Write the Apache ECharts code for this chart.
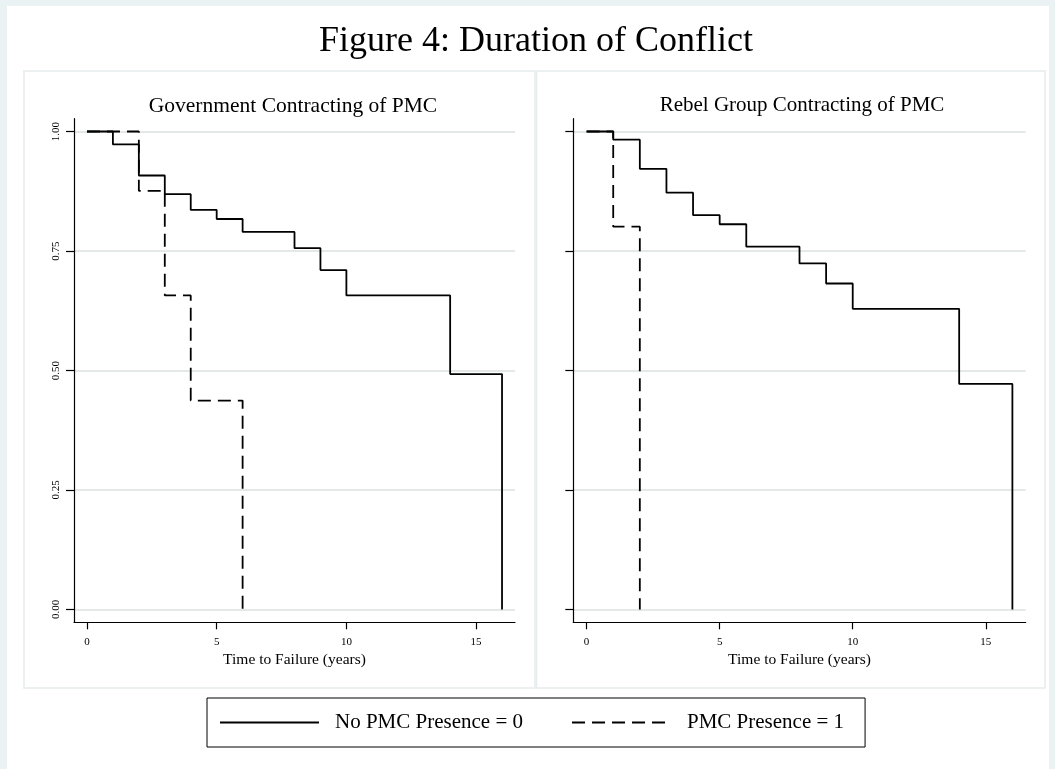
<!DOCTYPE html>
<html lang="en" style="height: 100%">
<head>
  <meta charset="utf-8">
</head>
<body style="height: 100%; margin: 0; background: #eaf2f3">
  <div id="container" style="width: 1055px; height: 769px"></div>

  <script type="text/javascript" src="https://cdn.jsdelivr.net/npm/echarts@6/dist/echarts.min.js"></script>

  <script type="text/javascript">
    // Kaplan-Meier survival estimates
    var govTimes0 = [0, 1, 2, 3, 4, 5, 6, 8, 9, 10, 14, 16];
    var govSurv0  = [1, 0.973, 0.908, 0.869, 0.836, 0.817, 0.790, 0.756, 0.710, 0.657, 0.4925, 0];
    var govTimes1 = [0, 2, 3, 4, 6];
    var govSurv1  = [1, 0.876, 0.657, 0.437, 0];

    var rebTimes0 = [0, 1, 2, 3, 4, 5, 6, 8, 9, 10, 14, 16];
    var rebSurv0  = [1, 0.983, 0.922, 0.872, 0.825, 0.806, 0.759, 0.724, 0.682, 0.629, 0.472, 0];
    var rebTimes1 = [0, 1, 2];
    var rebSurv1  = [1, 0.801, 0];

    var xTicks = [0, 5, 10, 15];
    var yTicks = [0, 0.25, 0.5, 0.75, 1];

    var name0 = 'No PMC Presence = 0';
    var name1 = 'PMC Presence = 1';

    var FONT = '"Liberation Serif", "Times New Roman", serif';
    var GRID = '#e4e8e8';

    function pairs(xs, ys) {
      return xs.map(function (x, i) { return [x, ys[i]]; });
    }

    function xAxisFor(idx) {
      return {
        type: 'value', gridIndex: idx, min: -0.5, max: 16.5,
        name: 'Time to Failure (years)', nameLocation: 'middle', nameGap: 29,
        nameTextStyle: { fontFamily: FONT, fontSize: 15.5, color: '#000' },
        axisLine: { show: true, onZero: false, lineStyle: { color: '#000', width: 1.2 } },
        axisTick: { show: true, length: 7, customValues: xTicks, lineStyle: { color: '#000', width: 1.2 } },
        axisLabel: { customValues: xTicks, margin: 14, fontFamily: FONT, fontSize: 11, color: '#000' },
        splitLine: { show: false }
      };
    }

    function yAxisFor(idx, labels) {
      return {
        type: 'value', gridIndex: idx, min: -0.0268, max: 1.0268,
        axisLine: { show: true, onZero: false, lineStyle: { color: '#000', width: 1.2 } },
        axisTick: { show: true, length: 8, customValues: yTicks, lineStyle: { color: '#000', width: 1.2 } },
        axisLabel: {
          show: labels, customValues: yTicks, rotate: 90, margin: 12,
          fontFamily: FONT, fontSize: 11, color: '#000',
          formatter: function (v) { return v.toFixed(2); }
        },
        splitLine: { show: true, lineStyle: { color: GRID, width: 2 } }
      };
    }

    function km(name, idx, data, dashed) {
      return {
        name: name, type: 'line', step: 'end', symbol: 'none',
        xAxisIndex: idx, yAxisIndex: idx, data: data,
        lineStyle: { color: '#000', width: 1.8, type: dashed ? [13, 7] : 'solid' },
        itemStyle: { color: '#000' },
        z: dashed ? 4 : 3
      };
    }

    var dom = document.getElementById('container');
    var myChart = echarts.init(dom, null, { renderer: 'canvas' });

    var option = {
      animation: false,
      backgroundColor: '#eaf2f3',
      graphic: [
        { type: 'rect', z: -10, shape: { x: 7, y: 6, width: 1042, height: 770 },
          style: { fill: '#fff' } },
        { type: 'rect', z: -9, shape: { x: 24, y: 71, width: 511, height: 617 },
          style: { fill: '#fff', stroke: '#e8ecec', lineWidth: 1.5 } },
        { type: 'rect', z: -9, shape: { x: 536.5, y: 71, width: 508.5, height: 617 },
          style: { fill: '#fff', stroke: '#e8ecec', lineWidth: 1.5 } }
      ],
      title: [
        { text: 'Figure 4: Duration of Conflict', left: 531, textAlign: 'center', top: 19,
          textStyle: { fontFamily: FONT, fontSize: 36, fontWeight: 'normal', color: '#000' } },
        { text: 'Government Contracting of PMC', left: 288, textAlign: 'center', top: 90,
          textStyle: { fontFamily: FONT, fontSize: 21.5, fontWeight: 'normal', color: '#000' } },
        { text: 'Rebel Group Contracting of PMC', left: 797, textAlign: 'center', top: 90,
          textStyle: { fontFamily: FONT, fontSize: 21, fontWeight: 'normal', color: '#000' } }
      ],
      legend: {
        data: [name0, name1],
        left: 207, top: 698,
        itemWidth: 99, itemHeight: 22, itemGap: 48,
        padding: [14, 21, 14, 12],
        borderColor: '#000', borderWidth: 1,
        itemStyle: { opacity: 0 },
        textStyle: { fontFamily: FONT, fontSize: 21, color: '#000', padding: [0, 0, 0, 11] }
      },
      grid: [
        { left: 74, right: 540, top: 118.7, bottom: 146.7 },
        { left: 573.3, right: 29.3, top: 118.7, bottom: 146.7 }
      ],
      xAxis: [xAxisFor(0), xAxisFor(1)],
      yAxis: [yAxisFor(0, true), yAxisFor(1, false)],
      series: [
        km(name0, 0, pairs(govTimes0, govSurv0), false),
        km(name1, 0, pairs(govTimes1, govSurv1), true),
        km(name0, 1, pairs(rebTimes0, rebSurv0), false),
        km(name1, 1, pairs(rebTimes1, rebSurv1), true)
      ]
    };

    if (option && typeof option === 'object') {
      myChart.setOption(option);
    }

    window.addEventListener('resize', myChart.resize);
  </script>
</body>
</html>
